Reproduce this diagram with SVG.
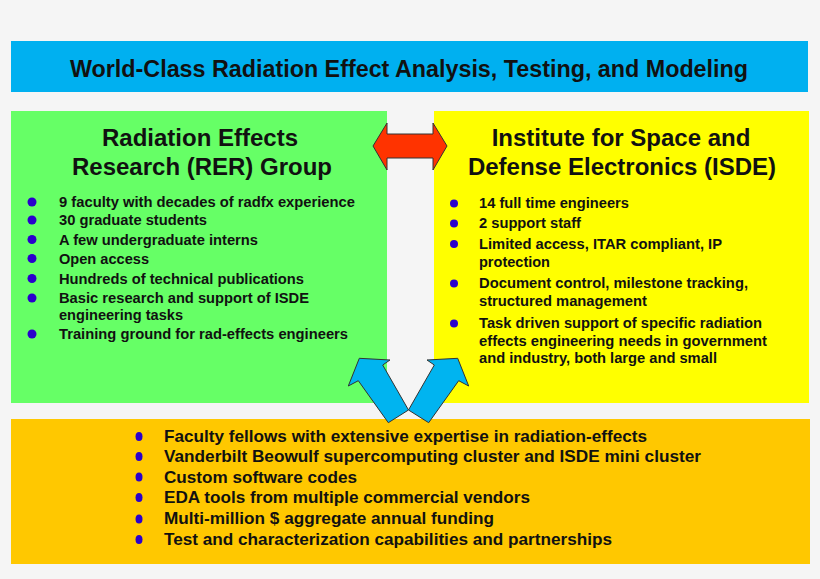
<svg xmlns="http://www.w3.org/2000/svg" width="820" height="579" viewBox="0 0 820 579">
<style>
.bul{fill:#2a00cc}
.t{font-family:"Liberation Sans",Arial,sans-serif;font-weight:bold;fill:#111}
.h{font-size:24px}
.b{font-size:14.7px}
.n{font-size:17px}
.arr{stroke:#333;stroke-width:1;stroke-linejoin:miter}
</style>
<rect x="0" y="0" width="820" height="579" fill="#f5f5f5"/>
<g id="banner">
<rect x="11" y="41" width="797" height="51" fill="#00b0f0"/>
<text class="t" x="70" y="77" font-size="23.5" textLength="678" lengthAdjust="spacingAndGlyphs">World-Class Radiation Effect Analysis, Testing, and Modeling</text>
</g>
<g id="rer">
<rect x="11" y="111" width="376" height="292" fill="#66ff66"/>
<text class="t h" x="200" y="146" text-anchor="middle">Radiation Effects</text>
<text class="t h" x="202" y="175" text-anchor="middle">Research (RER) Group</text>
<g class="bul">
<circle cx="32" cy="202" r="4.5"/><circle cx="32" cy="220" r="4.5"/><circle cx="32" cy="239.5" r="4.5"/><circle cx="32" cy="258.5" r="4.5"/><circle cx="32" cy="278.5" r="4.5"/><circle cx="32" cy="298" r="4.5"/><circle cx="32" cy="334" r="4.5"/>
</g>
<text class="t b" x="59" y="207" textLength="296" lengthAdjust="spacingAndGlyphs">9 faculty with decades of radfx experience</text>
<text class="t b" x="59" y="225" textLength="148" lengthAdjust="spacingAndGlyphs">30 graduate students</text>
<text class="t b" x="59" y="244.5" textLength="199" lengthAdjust="spacingAndGlyphs">A few undergraduate interns</text>
<text class="t b" x="59" y="263.5" textLength="90" lengthAdjust="spacingAndGlyphs">Open access</text>
<text class="t b" x="59" y="283.5" textLength="245" lengthAdjust="spacingAndGlyphs">Hundreds of technical publications</text>
<text class="t b" x="59" y="303" textLength="250" lengthAdjust="spacingAndGlyphs">Basic research and support of ISDE</text>
<text class="t b" x="59" y="319.5" textLength="124" lengthAdjust="spacingAndGlyphs">engineering tasks</text>
<text class="t b" x="59" y="339" textLength="289" lengthAdjust="spacingAndGlyphs">Training ground for rad-effects engineers</text>
</g>
<g id="isde">
<rect x="434" y="111" width="375" height="292" fill="#ffff00"/>
<text class="t h" x="621" y="146" text-anchor="middle">Institute for Space and</text>
<text class="t h" x="622" y="175" text-anchor="middle">Defense Electronics (ISDE)</text>
<g class="bul">
<circle cx="454" cy="203.5" r="4"/><circle cx="454" cy="223.5" r="4"/><circle cx="454" cy="244" r="4"/><circle cx="454" cy="283.5" r="4"/><circle cx="454" cy="323.5" r="4"/>
</g>
<text class="t b" x="479" y="208" textLength="150" lengthAdjust="spacingAndGlyphs">14 full time engineers</text>
<text class="t b" x="479" y="228" textLength="102" lengthAdjust="spacingAndGlyphs">2 support staff</text>
<text class="t b" x="479" y="248.5" textLength="243" lengthAdjust="spacingAndGlyphs">Limited access, ITAR compliant, IP</text>
<text class="t b" x="479" y="266.5" textLength="71" lengthAdjust="spacingAndGlyphs">protection</text>
<text class="t b" x="479" y="287.5" textLength="269" lengthAdjust="spacingAndGlyphs">Document control, milestone tracking,</text>
<text class="t b" x="479" y="305.5" textLength="168" lengthAdjust="spacingAndGlyphs">structured management</text>
<text class="t b" x="479" y="328" textLength="283" lengthAdjust="spacingAndGlyphs">Task driven support of specific radiation</text>
<text class="t b" x="479" y="345.5" textLength="288" lengthAdjust="spacingAndGlyphs">effects engineering needs in government</text>
<text class="t b" x="479" y="363" textLength="238" lengthAdjust="spacingAndGlyphs">and industry, both large and small</text>
</g>
<g id="resources">
<rect x="11" y="419" width="799" height="145" fill="#ffc800"/>
<g class="bul">
<ellipse cx="139" cy="436.5" rx="3.5" ry="4.5"/><ellipse cx="139" cy="456.5" rx="3.5" ry="4.5"/><ellipse cx="139" cy="477" rx="3.5" ry="4.5"/><ellipse cx="139" cy="497.5" rx="3.5" ry="4.5"/><ellipse cx="139" cy="519" rx="3.5" ry="4.5"/><ellipse cx="139" cy="539.5" rx="3.5" ry="4.5"/>
</g>
<text class="t n" x="164" y="442" textLength="483" lengthAdjust="spacingAndGlyphs">Faculty fellows with extensive expertise in radiation-effects</text>
<text class="t n" x="164" y="462" textLength="537" lengthAdjust="spacingAndGlyphs">Vanderbilt Beowulf supercomputing cluster and ISDE mini cluster</text>
<text class="t n" x="164" y="482.5" textLength="193" lengthAdjust="spacingAndGlyphs">Custom software codes</text>
<text class="t n" x="164" y="503" textLength="366" lengthAdjust="spacingAndGlyphs">EDA tools from multiple commercial vendors</text>
<text class="t n" x="164" y="524" textLength="330" lengthAdjust="spacingAndGlyphs">Multi-million $ aggregate annual funding</text>
<text class="t n" x="164" y="544.5" textLength="448" lengthAdjust="spacingAndGlyphs">Test and characterization capabilities and partnerships</text>
</g>
<g id="connectors">
<polygon class="arr" fill="#ff3300" points="373,146 387,123 387,134 433,134 433,123 447,146 433,170 433,158 387,158 387,170"/>
<polygon class="arr" fill="#00b4f0" points="359.3,358.3 390,360 382.7,365 408.5,410 388.3,422.7 358.3,380.7 348.3,386"/>
<polygon class="arr" fill="#00b4f0" points="457.7,358.3 427,360 434.3,365 408.5,410 428.7,422.7 458.7,380.7 468.7,386"/>
</g>
</svg>
